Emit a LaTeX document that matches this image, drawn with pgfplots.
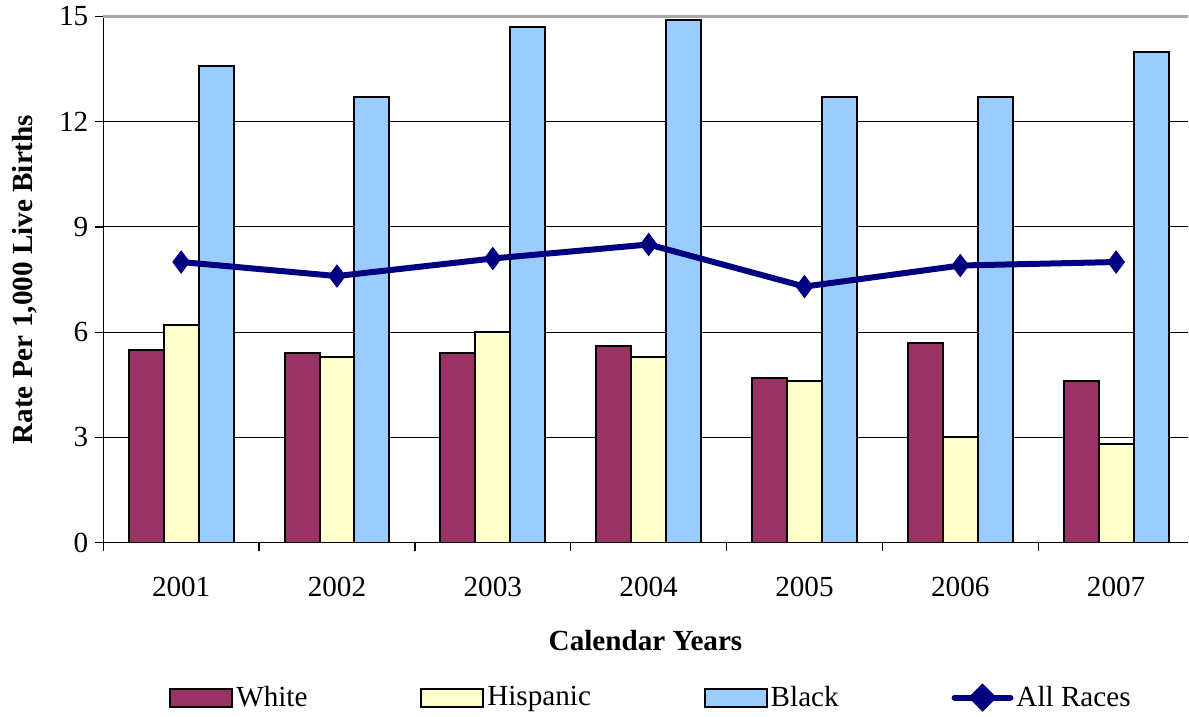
\documentclass[border=0pt]{standalone}
\usepackage{fontspec}
\setmainfont{Liberation Serif}
\usepackage{pgfplots}
\pgfplotsset{compat=1.18}
\definecolor{cWhite}{HTML}{993366}
\definecolor{cHisp}{HTML}{FFFFCC}
\definecolor{cBlack}{HTML}{99CCFF}
\definecolor{cAll}{HTML}{000080}
\begin{document}
\begin{tikzpicture}
\begin{axis}[
  scale only axis,
  width=543pt, height=263.5pt,
  xmin=0.5, xmax=7.46,
  ymin=0, ymax=15,
  ybar,
  bar width=17.5pt,
  axis x line*=bottom,
  axis y line*=left,
  axis line style={black, line width=0.6pt},
  tick align=outside,
  tick style={black, line width=0.6pt},
  major tick length=4pt,
  ytick={0,3,6,9,12},
  extra y ticks={15},
  extra y tick style={grid style={gray!70, line width=1.2pt}},
  ymajorgrids,
  grid style={black, line width=0.5pt},
  xtick={0.5,1.5,...,7.5},
  xticklabels={},
  extra x ticks={1,2,3,4,5,6,7},
  extra x tick labels={2001,2002,2003,2004,2005,2006,2007},
  extra x tick style={major tick length=0pt, xmajorgrids=false},
  /pgf/number format/assume math mode=true,
  tick label style={font=\fontsize{14.6}{16}\selectfont},
  xticklabel style={yshift=-13.5pt},
  xlabel={Calendar Years},
  ylabel={Rate Per 1,000 Live Births},
  every axis x label/.style={at={(axis description cs:0.5,0)}, anchor=center, yshift=-49pt, font=\bfseries\fontsize{14.6}{16}\selectfont},
  every axis y label/.style={at={([xshift=-39.5pt]axis description cs:0,0.5)}, rotate=90, anchor=center, inner sep=6pt, font=\bfseries\fontsize{14.6}{16}\selectfont},
  legend columns=4,
  legend style={at={(0.5,0)}, anchor=north, xshift=3pt, yshift=-68pt, draw=none, fill=none,
    font=\fontsize{14.6}{16}\selectfont,
    /tikz/every even column/.append style={column sep=55pt},
    nodes={inner sep=1.5pt}},
]
\addplot[fill=cWhite, draw=black, line width=1pt, bar shift=-17.5pt,
  legend image code/.code={\draw[fill=cWhite, draw=black, line width=1pt] (0pt,-4.5pt) rectangle (31pt,4.5pt);}]
  coordinates {(1,5.5) (2,5.4) (3,5.4) (4,5.6) (5,4.7) (6,5.7) (7,4.6)};
\addlegendentry{White}
\addplot[fill=cHisp, draw=black, line width=1pt, bar shift=0pt,
  legend image code/.code={\draw[fill=cHisp, draw=black, line width=1pt] (0pt,-4.5pt) rectangle (31pt,4.5pt);}]
  coordinates {(1,6.2) (2,5.3) (3,6.0) (4,5.3) (5,4.6) (6,3.0) (7,2.8)};
\addlegendentry{Hispanic}
\addplot[fill=cBlack, draw=black, line width=1pt, bar shift=17.5pt,
  legend image code/.code={\draw[fill=cBlack, draw=black, line width=1pt] (0pt,-4.5pt) rectangle (31pt,4.5pt);}]
  coordinates {(1,13.6) (2,12.7) (3,14.7) (4,14.9) (5,12.7) (6,12.7) (7,14.0)};
\addlegendentry{Black}
\addplot[sharp plot, color=cAll, line width=3pt, mark=diamond*, mark size=5.5pt,
  mark options={solid, line width=0.5pt, fill=cAll},
  legend image code/.code={\draw[cAll, line width=3pt, line cap=round] (1.5pt,0pt) -- (29.5pt,0pt);
    \fill[cAll] (15.5pt,5pt) -- (20.5pt,0pt) -- (15.5pt,-5pt) -- (10.5pt,0pt) -- cycle;}]
  coordinates {(1,8.0) (2,7.6) (3,8.1) (4,8.5) (5,7.3) (6,7.9) (7,8.0)};
\addlegendentry{All Races}
\end{axis}
\end{tikzpicture}
\end{document}
